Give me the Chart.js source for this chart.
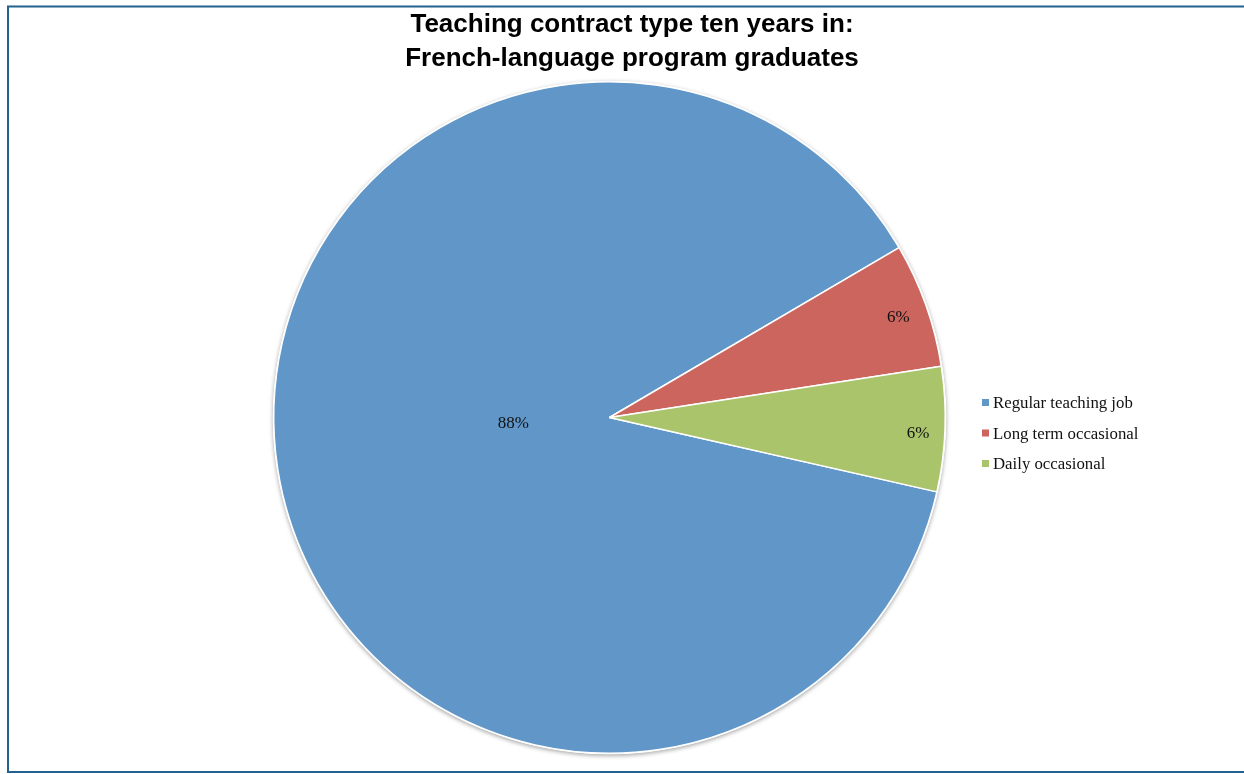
<!DOCTYPE html>
<html>
<head>
<meta charset="utf-8">
<script src="https://cdn.jsdelivr.net/npm/chart.js@4"></script>
<style>
  html, body { margin: 0; padding: 0; background: #fff; }
  canvas { display: block; }
</style>
</head>
<body>
<canvas id="c" width="1244" height="774"></canvas>
<script>
// ---- data ----
const titleLines = ['Teaching contract type ten years in:', 'French-language program graduates'];
const categories = ['Regular teaching job', 'Long term occasional', 'Daily occasional'];
const values = [88, 6, 6];
const valueLabels = ['88%', '6%', '6%'];

// ---- styles ----
const colors = ['#6096C8', '#CC655D', '#AAC46C'];
const labelRadiusFrac = [0.29, 0.91, 0.92];
const labelShift = [{dx: 0, dy: -9}, {dx: 1, dy: 3}, {dx: 0, dy: 5}];

const framePlugin = {
  id: 'frame',
  beforeDraw(chart) {
    const ctx = chart.ctx;
    ctx.save();
    ctx.fillStyle = '#fff';
    ctx.fillRect(0, 0, chart.width, chart.height);
    ctx.strokeStyle = '#23628F';
    ctx.lineWidth = 2;
    ctx.beginPath();
    ctx.moveTo(1244, 6.5);
    ctx.lineTo(8, 6.5);
    ctx.lineTo(8, 772);
    ctx.lineTo(1244, 772);
    ctx.stroke();
    ctx.restore();
  }
};

const titlePlugin = {
  id: 'customTitle',
  afterDraw(chart) {
    const ctx = chart.ctx;
    ctx.save();
    ctx.font = 'bold 26px "Liberation Sans", Arial, sans-serif';
    ctx.fillStyle = '#000';
    ctx.textAlign = 'center';
    ctx.textBaseline = 'middle';
    titleLines.forEach((t, i) => ctx.fillText(t, 632, 25 + i * 34));
    ctx.restore();
  }
};

const shadowPlugin = {
  id: 'pieShadow',
  beforeDatasetsDraw(chart) {
    const arc = chart.getDatasetMeta(0).data[0];
    if (!arc) return;
    const {x, y, outerRadius} = arc.getProps(['x', 'y', 'outerRadius'], true);
    const ctx = chart.ctx;
    ctx.save();
    ctx.shadowColor = 'rgba(0,0,0,0.35)';
    ctx.shadowBlur = 4;
    ctx.shadowOffsetY = 1.5;
    ctx.fillStyle = '#fff';
    ctx.beginPath();
    ctx.arc(x, y, outerRadius + 1, 0, Math.PI * 2);
    ctx.fill();
    ctx.restore();
  }
};

const sliceLabelPlugin = {
  id: 'sliceLabels',
  afterDatasetsDraw(chart) {
    const ctx = chart.ctx;
    const meta = chart.getDatasetMeta(0);
    ctx.save();
    ctx.font = '17px "Liberation Serif", "Times New Roman", serif';
    ctx.fillStyle = '#111';
    ctx.textAlign = 'center';
    ctx.textBaseline = 'middle';
    meta.data.forEach((arc, i) => {
      const p = arc.getProps(['x', 'y', 'startAngle', 'endAngle', 'outerRadius'], true);
      const mid = (p.startAngle + p.endAngle) / 2;
      const r = p.outerRadius * labelRadiusFrac[i];
      const lx = p.x + Math.cos(mid) * r + labelShift[i].dx;
      const ly = p.y + Math.sin(mid) * r + labelShift[i].dy;
      ctx.fillText(valueLabels[i], lx, ly);
    });
    ctx.restore();
  }
};

const legendPlugin = {
  id: 'sideLegend',
  afterDraw(chart) {
    const ctx = chart.ctx;
    ctx.save();
    ctx.font = '16.8px "Liberation Serif", "Times New Roman", serif';
    ctx.textAlign = 'left';
    ctx.textBaseline = 'middle';
    const x0 = 982, y0 = 403, step = 30.5;
    categories.forEach((name, i) => {
      const cy = y0 + i * step;
      ctx.fillStyle = colors[i];
      ctx.fillRect(x0, cy - 4, 7, 7);
      ctx.fillStyle = '#111';
      ctx.fillText(name, x0 + 11, cy + 1);
    });
    ctx.restore();
  }
};

new Chart(document.getElementById('c'), {
  type: 'pie',
  data: {
    labels: categories,
    datasets: [{
      data: values,
      backgroundColor: colors,
      borderColor: '#ffffff',
      borderWidth: 1.5
    }]
  },
  options: {
    responsive: false,
    animation: false,
    rotation: 102.8,
    layout: { padding: { left: 20, right: 45, top: 81, bottom: 20 } },
    plugins: {
      legend: { display: false },
      tooltip: { enabled: false },
      title: { display: false }
    }
  },
  plugins: [framePlugin, shadowPlugin, sliceLabelPlugin, legendPlugin, titlePlugin]
});
</script>
</body>
</html>
